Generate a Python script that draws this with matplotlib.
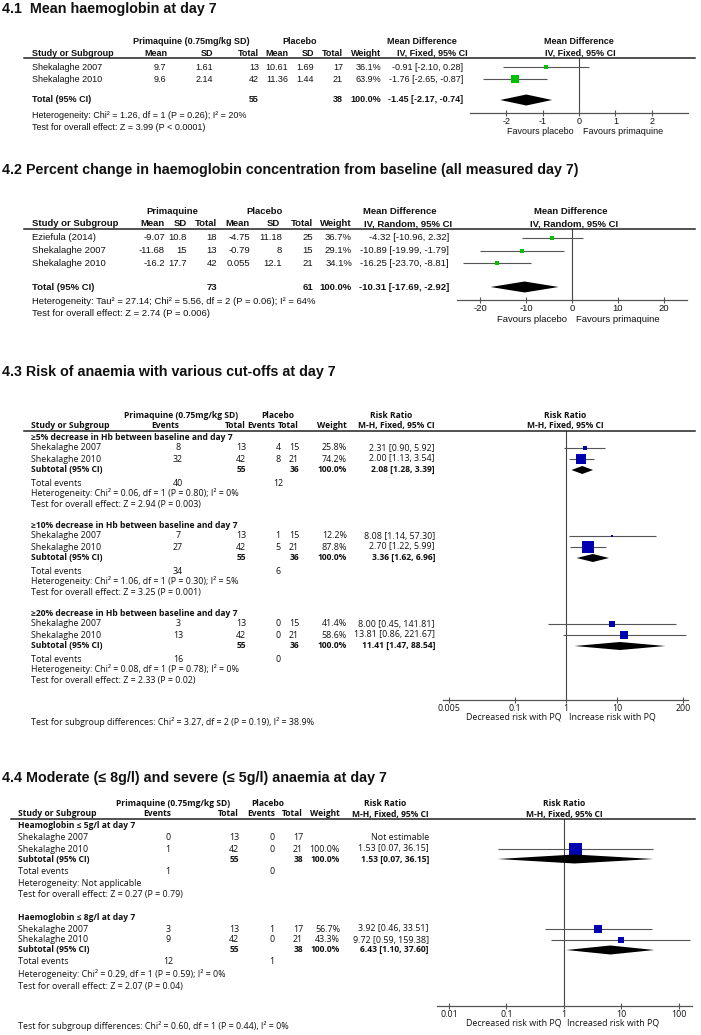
import matplotlib
matplotlib.use("Agg")
import matplotlib.pyplot as plt
from matplotlib.lines import Line2D
from matplotlib.ticker import NullLocator

W, H = 701, 1035
ARIAL = ["Liberation Sans", "DejaVu Sans"]
LUCIDA = ["Open Sans", "DejaVu Sans"]
GREEN = "#00c000"
BLUE = "#0000b0"
GREY = "#555555"

# ---------- 4.1 mean haemoglobin at day 7
s1_study = ["Shekalaghe 2007", "Shekalaghe 2010"]
s1_pq_mean = [9.7, 9.6]
s1_pq_sd = [1.61, 2.14]
s1_pq_n = [13, 42]
s1_pl_mean = [10.61, 11.36]
s1_pl_sd = [1.69, 1.44]
s1_pl_n = [17, 21]
s1_weight = [36.1, 63.9]
s1_est = [-0.91, -1.76]
s1_lo = [-2.10, -2.65]
s1_hi = [0.28, -0.87]
s1_total = [55, 38]
s1_pooled = [-1.45, -2.17, -0.74]
s1_het = "Heterogeneity: Chi² = 1.26, df = 1 (P = 0.26); I² = 20%"
s1_test = "Test for overall effect: Z = 3.99 (P < 0.0001)"
s1_ticks = [-2, -1, 0, 1, 2]

# ---------- 4.2 percent change from baseline
s2_study = ["Eziefula (2014)", "Shekalaghe 2007", "Shekalaghe 2010"]
s2_pq_mean = [-9.07, -11.68, -16.2]
s2_pq_sd = [10.8, 15, 17.7]
s2_pq_n = [18, 13, 42]
s2_pl_mean = [-4.75, -0.79, 0.055]
s2_pl_sd = [11.18, 8, 12.1]
s2_pl_n = [25, 15, 21]
s2_weight = [36.7, 29.1, 34.1]
s2_est = [-4.32, -10.89, -16.25]
s2_lo = [-10.96, -19.99, -23.70]
s2_hi = [2.32, -1.79, -8.81]
s2_total = [73, 61]
s2_pooled = [-10.31, -17.69, -2.92]
s2_het = "Heterogeneity: Tau² = 27.14; Chi² = 5.56, df = 2 (P = 0.06); I² = 64%"
s2_test = "Test for overall effect: Z = 2.74 (P = 0.006)"
s2_ticks = [-20, -10, 0, 10, 20]

# ---------- 4.3 risk of anaemia, three cut-offs
s3_groups = ["≥5% decrease in Hb between baseline and day 7",
             "≥10% decrease in Hb between baseline and day 7",
             "≥20% decrease in Hb between baseline and day 7"]
s3_study = ["Shekalaghe 2007", "Shekalaghe 2010"]
s3_pq_ev = [[8, 32], [7, 27], [3, 13]]
s3_pq_n = [13, 42]
s3_pl_ev = [[4, 8], [1, 5], [0, 0]]
s3_pl_n = [15, 21]
s3_weight = [[25.8, 74.2], [12.2, 87.8], [41.4, 58.6]]
s3_est = [[2.31, 2.00], [8.08, 2.70], [8.00, 13.81]]
s3_lo = [[0.90, 1.13], [1.14, 1.22], [0.45, 0.86]]
s3_hi = [[5.92, 3.54], [57.30, 5.99], [141.81, 221.67]]
s3_sub_n = [55, 36]
s3_sub = [[2.08, 1.28, 3.39], [3.36, 1.62, 6.96], [11.41, 1.47, 88.54]]
s3_events = [[40, 12], [34, 6], [16, 0]]
s3_het = ["Chi² = 0.06, df = 1 (P = 0.80); I² = 0%",
          "Chi² = 1.06, df = 1 (P = 0.30); I² = 5%",
          "Chi² = 0.08, df = 1 (P = 0.78); I² = 0%"]
s3_test = ["Z = 2.94 (P = 0.003)", "Z = 3.25 (P = 0.001)", "Z = 2.33 (P = 0.02)"]
s3_diff = "Test for subgroup differences: Chi² = 3.27, df = 2 (P = 0.19), I² = 38.9%"
s3_ticks = [0.005, 0.1, 1, 10, 200]

# ---------- 4.4 moderate and severe anaemia
s4_groups = ["Heamoglobin ≤ 5g/l at day 7", "Haemoglobin ≤ 8g/l at day 7"]
s4_study = ["Shekalaghe 2007", "Shekalaghe 2010"]
s4_pq_ev = [[0, 1], [3, 9]]
s4_pq_n = [13, 42]
s4_pl_ev = [[0, 0], [1, 0]]
s4_pl_n = [17, 21]
s4_weight = [[None, 100.0], [56.7, 43.3]]
s4_est = [[None, 1.53], [3.92, 9.72]]
s4_lo = [[None, 0.07], [0.46, 0.59]]
s4_hi = [[None, 36.15], [33.51, 159.38]]
s4_sub_n = [55, 38]
s4_sub = [[1.53, 0.07, 36.15], [6.43, 1.10, 37.60]]
s4_events = [[1, 0], [12, 1]]
s4_het = ["Not applicable", "Chi² = 0.29, df = 1 (P = 0.59); I² = 0%"]
s4_test = ["Z = 0.27 (P = 0.79)", "Z = 2.07 (P = 0.04)"]
s4_diff = "Test for subgroup differences: Chi² = 0.60, df = 1 (P = 0.44), I² = 0%"
s4_ticks = [0.01, 0.1, 1, 10, 100]

fig = plt.figure(figsize=(W / 100, H / 100), dpi=100)


def put(x, y, s, ha="left", bold=False, size=6.5, fam=ARIAL):
    fig.text(x / W, 1 - y / H, s, ha=ha, va="center", fontsize=size,
             fontweight="bold" if bold else "normal", family=fam, color="#111111")


def rule(x0, x1, y):
    fig.add_artist(Line2D([x0 / W, x1 / W], [1 - y / H] * 2, color="#222222", lw=1.1))


def panel(x0, x1, ytop, ybot, lim, ref, ticks, size, fam, log=False):
    ax = fig.add_axes([x0 / W, 1 - ybot / H, (x1 - x0) / W, (ybot - ytop) / H])
    if log:
        ax.set_xscale("log")
    ax.set_xlim(lim)
    ax.set_ylim(ybot, ytop)
    ax.patch.set_visible(False)
    for s in ["left", "right", "top"]:
        ax.spines[s].set_visible(False)
    ax.spines["bottom"].set_color(GREY)
    ax.spines["bottom"].set_linewidth(0.9)
    ax.set_yticks([])
    ax.set_xticks(ticks)
    ax.set_xticklabels([str(t) for t in ticks], family=fam, fontsize=size)
    ax.xaxis.set_minor_locator(NullLocator())
    ax.tick_params(axis="x", direction="inout", length=4, width=0.8, pad=1,
                   color=GREY, labelcolor="#111111")
    ax.axvline(ref, color="#444444", lw=0.8, zorder=1)
    return ax


def study(ax, y, est, lo, hi, w, color):
    ax.hlines(y, lo, hi, color=GREY, lw=0.8, zorder=2)
    side = max(2.0, 13 * w / 100)
    ax.plot(est, y, "s", ms=side * 0.72, color=color, mew=0, zorder=3)


def diamond(ax, y, est, lo, hi, h):
    ax.fill([lo, est, hi, est], [y, y - h, y, y + h], color="black", lw=0, zorder=3)


def ci(est, lo, hi):
    return f"{est:.2f} [{lo:.2f}, {hi:.2f}]"


# ================= 4.1 =================
fs = 6.5
put(2, 9, "4.1  Mean haemoglobin at day 7", bold=True, size=10.3)
put(191, 42, "Primaquine (0.75mg/kg SD)", ha="center", bold=True, size=fs)
put(300, 42, "Placebo", ha="center", bold=True, size=fs)
put(422, 42, "Mean Difference", ha="center", bold=True, size=fs)
put(579, 42, "Mean Difference", ha="center", bold=True, size=fs)
cols = [(32, "Study or Subgroup", "left"), (167, "Mean", "right"), (213, "SD", "right"),
        (259, "Total", "right"), (288, "Mean", "right"), (314, "SD", "right"),
        (343, "Total", "right"), (381, "Weight", "right")]
for x, s, ha in cols:
    put(x, 53, s, ha=ha, bold=True, size=fs)
put(432, 53, "IV, Fixed, 95% CI", ha="center", bold=True, size=fs)
put(580, 53, "IV, Fixed, 95% CI", ha="center", bold=True, size=fs)
rule(24, 695, 58)

ax1 = panel(470, 688, 58, 113, (-3, 3), 0, s1_ticks, fs, ARIAL)
rows1 = [67, 79]
for i, y in enumerate(rows1):
    put(32, y, s1_study[i], size=fs)
    put(166, y, str(s1_pq_mean[i]), ha="right", size=fs)
    put(213, y, str(s1_pq_sd[i]), ha="right", size=fs)
    put(259, y, str(s1_pq_n[i]), ha="right", size=fs)
    put(288, y, str(s1_pl_mean[i]), ha="right", size=fs)
    put(314, y, str(s1_pl_sd[i]), ha="right", size=fs)
    put(343, y, str(s1_pl_n[i]), ha="right", size=fs)
    put(381, y, f"{s1_weight[i]:.1f}%", ha="right", size=fs)
    put(463, y, ci(s1_est[i], s1_lo[i], s1_hi[i]), ha="right", size=fs)
    study(ax1, y, s1_est[i], s1_lo[i], s1_hi[i], s1_weight[i], GREEN)
put(32, 100, "Total (95% CI)", bold=True, size=fs)
put(259, 100, str(s1_total[0]), ha="right", bold=True, size=fs)
put(343, 100, str(s1_total[1]), ha="right", bold=True, size=fs)
put(381, 100, "100.0%", ha="right", bold=True, size=fs)
put(463, 100, ci(*s1_pooled), ha="right", bold=True, size=fs)
diamond(ax1, 100, *s1_pooled, 5.5)
put(32, 115, s1_het, size=fs)
put(32, 128, s1_test, size=fs)
put(574, 132, "Favours placebo", ha="right", size=fs)
put(583, 132, "Favours primaquine", size=fs)

# ================= 4.2 =================
fs = 6.8
put(2, 170, "4.2 Percent change in haemoglobin concentration from baseline (all measured day 7)",
    bold=True, size=10.3)
put(172, 212, "Primaquine", ha="center", bold=True, size=fs)
put(265, 212, "Placebo", ha="center", bold=True, size=fs)
put(400, 212, "Mean Difference", ha="center", bold=True, size=fs)
put(571, 212, "Mean Difference", ha="center", bold=True, size=fs)
cols = [(32, "Study or Subgroup", "left"), (165, "Mean", "right"), (187, "SD", "right"),
        (217, "Total", "right"), (250, "Mean", "right"), (280, "SD", "right"),
        (313, "Total", "right"), (352, "Weight", "right")]
for x, s, ha in cols:
    put(x, 224, s, ha=ha, bold=True, size=fs)
put(408, 224, "IV, Random, 95% CI", ha="center", bold=True, size=fs)
put(574, 224, "IV, Random, 95% CI", ha="center", bold=True, size=fs)
rule(24, 695, 229)

ax2 = panel(457, 687, 229, 300, (-25, 25), 0, s2_ticks, fs, ARIAL)
rows2 = [238, 250.5, 263]
for i, y in enumerate(rows2):
    put(32, y, s2_study[i], size=fs)
    put(165, y, str(s2_pq_mean[i]), ha="right", size=fs)
    put(187, y, str(s2_pq_sd[i]), ha="right", size=fs)
    put(217, y, str(s2_pq_n[i]), ha="right", size=fs)
    put(250, y, str(s2_pl_mean[i]), ha="right", size=fs)
    put(282, y, str(s2_pl_sd[i]), ha="right", size=fs)
    put(313, y, str(s2_pl_n[i]), ha="right", size=fs)
    put(352, y, f"{s2_weight[i]:.1f}%", ha="right", size=fs)
    put(449, y, ci(s2_est[i], s2_lo[i], s2_hi[i]), ha="right", size=fs)
    study(ax2, y, s2_est[i], s2_lo[i], s2_hi[i], s2_weight[i], GREEN)
put(32, 287, "Total (95% CI)", bold=True, size=fs)
put(217, 287, str(s2_total[0]), ha="right", bold=True, size=fs)
put(313, 287, str(s2_total[1]), ha="right", bold=True, size=fs)
put(352, 287, "100.0%", ha="right", bold=True, size=fs)
put(449, 287, ci(*s2_pooled), ha="right", bold=True, size=fs)
diamond(ax2, 287, *s2_pooled, 5.5)
put(32, 302, s2_het, size=fs)
put(32, 313, s2_test, size=fs)
put(567, 320, "Favours placebo", ha="right", size=fs)
put(576, 320, "Favours primaquine", size=fs)

# ================= 4.3 / 4.4 (subgroup tables) =================
fs, fb = 6.4, 6.1


def subgroup_table(top, title, x, hx, ci_x, ref_x, ax_span, lim, ticks, groups_y, offs, d, dh):
    put(2, title[0], title[1], bold=True, size=10.3)
    put(hx["pq"], top, "Primaquine (0.75mg/kg SD)", ha="center", bold=True, size=fb, fam=LUCIDA)
    put(hx["pl"], top, "Placebo", ha="center", bold=True, size=fb, fam=LUCIDA)
    put(hx["rr"], top, "Risk Ratio", ha="center", bold=True, size=fb, fam=LUCIDA)
    put(ref_x, top, "Risk Ratio", ha="center", bold=True, size=fb, fam=LUCIDA)
    y2 = top + 11
    put(x["study"], y2, "Study or Subgroup", bold=True, size=fb, fam=LUCIDA)
    put(hx["ev1"], y2, "Events", ha="center", bold=True, size=fb, fam=LUCIDA)
    put(x["n1"], y2, "Total", ha="right", bold=True, size=fb, fam=LUCIDA)
    put(hx["ev2"], y2, "Events", ha="center", bold=True, size=fb, fam=LUCIDA)
    put(x["n2"], y2, "Total", ha="right", bold=True, size=fb, fam=LUCIDA)
    put(x["w"], y2, "Weight", ha="right", bold=True, size=fb, fam=LUCIDA)
    put(hx["mh"], y2, "M-H, Fixed, 95% CI", ha="center", bold=True, size=fb, fam=LUCIDA)
    put(ref_x, y2, "M-H, Fixed, 95% CI", ha="center", bold=True, size=fb, fam=LUCIDA)
    line_y = top + 16
    rule(x["study"] - 7, 695, line_y)
    ax = panel(ax_span[0], ax_span[1], line_y, ax_span[2], lim, 1, ticks, fs, LUCIDA, log=True)
    for g, g0 in enumerate(groups_y):
        ys = [g0 + o for o in offs]
        put(x["study"], ys[0], d["groups"][g], bold=True, size=fb, fam=LUCIDA)
        for i in range(2):
            y = ys[1 + i]
            put(x["study"], y, d["study"][i], size=fs, fam=LUCIDA)
            put(x["ev1"], y, str(d["pq_ev"][g][i]), ha="center", size=fs, fam=LUCIDA)
            put(x["n1"], y, str(d["pq_n"][i]), ha="right", size=fs, fam=LUCIDA)
            put(x["ev2"], y, str(d["pl_ev"][g][i]), ha="center", size=fs, fam=LUCIDA)
            put(x["n2"], y, str(d["pl_n"][i]), ha="right", size=fs, fam=LUCIDA)
            if d["est"][g][i] is None:
                put(ci_x, y, "Not estimable", ha="right", size=fs, fam=LUCIDA)
                continue
            put(x["w"], y, f"{d['weight'][g][i]:.1f}%", ha="right", size=fs, fam=LUCIDA)
            put(ci_x, y, ci(d["est"][g][i], d["lo"][g][i], d["hi"][g][i]),
                ha="right", size=fs, fam=LUCIDA)
            study(ax, y, d["est"][g][i], d["lo"][g][i], d["hi"][g][i], d["weight"][g][i], BLUE)
        put(x["study"], ys[3], "Subtotal (95% CI)", bold=True, size=fb, fam=LUCIDA)
        put(x["n1"], ys[3], str(d["sub_n"][0]), ha="right", bold=True, size=fb, fam=LUCIDA)
        put(x["n2"], ys[3], str(d["sub_n"][1]), ha="right", bold=True, size=fb, fam=LUCIDA)
        put(x["w"], ys[3], "100.0%", ha="right", bold=True, size=fb, fam=LUCIDA)
        put(ci_x, ys[3], ci(*d["sub"][g]), ha="right", bold=True, size=fb, fam=LUCIDA)
        diamond(ax, ys[3], *d["sub"][g], dh)
        put(x["study"], ys[4], "Total events", size=fs, fam=LUCIDA)
        put(x["ev1"], ys[4], str(d["events"][g][0]), ha="center", size=fs, fam=LUCIDA)
        put(x["ev2"], ys[4], str(d["events"][g][1]), ha="center", size=fs, fam=LUCIDA)
        put(x["study"], ys[5], "Heterogeneity: " + d["het"][g], size=fs, fam=LUCIDA)
        put(x["study"], ys[6], "Test for overall effect: " + d["test"][g], size=fs, fam=LUCIDA)
    return ax


d3 = dict(groups=s3_groups, study=s3_study, pq_ev=s3_pq_ev, pq_n=s3_pq_n, pl_ev=s3_pl_ev,
          pl_n=s3_pl_n, weight=s3_weight, est=s3_est, lo=s3_lo, hi=s3_hi, sub_n=s3_sub_n,
          sub=s3_sub, events=s3_events, het=s3_het, test=s3_test)
subgroup_table(415, (372, "4.3 Risk of anaemia with various cut-offs at day 7"),
               dict(study=31, ev1=178, n1=246, ev2=278, n2=299, w=347),
               dict(pq=181, pl=278, rr=391, ev1=165, ev2=261, mh=396),
               435, 565, (443, 688, 700), (10 ** -2.41, 10 ** 2.39), s3_ticks,
               [437, 525, 613], [0, 11, 22, 33, 46, 56, 67], d3, 4)
put(31, 722, s3_diff, size=fs, fam=LUCIDA)
put(562, 717, "Decreased risk with PQ", ha="right", size=fs, fam=LUCIDA)
put(569, 717, "Increase risk with PQ", size=fs, fam=LUCIDA)

d4 = dict(groups=s4_groups, study=s4_study, pq_ev=s4_pq_ev, pq_n=s4_pq_n, pl_ev=s4_pl_ev,
          pl_n=s4_pl_n, weight=s4_weight, est=s4_est, lo=s4_lo, hi=s4_hi, sub_n=s4_sub_n,
          sub=s4_sub, events=s4_events, het=s4_het, test=s4_test)
subgroup_table(803, (778, "4.4 Moderate (≤ 8g/l) and severe (≤ 5g/l) anaemia at day 7"),
               dict(study=18, ev1=168, n1=239, ev2=272, n2=303, w=340),
               dict(pq=173, pl=268, rr=385, ev1=157, ev2=261, mh=390),
               429, 564, (437, 692, 1006), (10 ** -2.21, 10 ** 2.23), s4_ticks,
               [826, 917], [0, 12, 23, 33, 45, 57, 69], d4, 4.5)
put(18, 1026, s4_diff, size=fs, fam=LUCIDA)
put(561, 1023, "Decreased risk with PQ", ha="right", size=fs, fam=LUCIDA)
put(567, 1023, "Increased risk with PQ", size=fs, fam=LUCIDA)

fig.savefig("out.png", dpi=100, facecolor="white")
